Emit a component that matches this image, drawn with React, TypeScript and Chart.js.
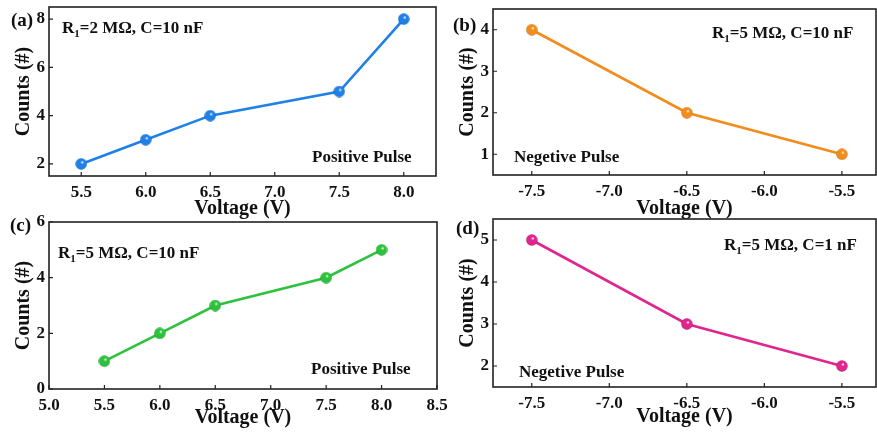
import React, { useEffect, useRef } from "react";
import { Chart, registerables } from "chart.js";
Chart.register(...registerables);

// ---- data ----
const posVoltage = [5.5, 6.0, 6.5, 7.5, 8.0];
const countsA = [2, 3, 4, 5, 8];
const countsC = [1, 2, 3, 4, 5];
const negVoltage = [-7.5, -6.5, -5.5];
const countsB = [4, 2, 1];
const countsD = [5, 3, 2];

// tick values
const xTicksA = [5.5, 6.0, 6.5, 7.0, 7.5, 8.0];
const xTicksC = [5.0, 5.5, 6.0, 6.5, 7.0, 7.5, 8.0, 8.5];
const xTicksNeg = [-7.5, -7.0, -6.5, -6.0, -5.5];
const yTicksA = [2, 4, 6, 8];
const yTicksB = [1, 2, 3, 4];
const yTicksC = [0, 2, 4, 6];
const yTicksD = [2, 3, 4, 5];

const panelLabels = ["(a)", "(b)", "(c)", "(d)"];
const noteTexts = ["=2 MΩ, C=10 nF", "=5 MΩ, C=10 nF", "=5 MΩ, C=10 nF", "=5 MΩ, C=1 nF"];
const pulseTexts = ["Positive Pulse", "Negetive Pulse", "Positive Pulse", "Negetive Pulse"];
const xTitle = "Voltage (V)";
const yTitle = "Counts (#)";

// ---- layout / style ----
const W = 877;
const H = 436;
const O = 30; // canvas overhang on every side (clipped by the container)
const CW = W + 2 * O;
const CH = H + 2 * O;
const YW = 45;
const FONT = "'Liberation Serif', 'Times New Roman', serif";

type Panel = {
  xs: number[];
  ys: number[];
  xTicks: number[];
  yTicks: number[];
  color: string;
  dark: string;
  xMin: number; xMax: number; yMin: number; yMax: number;
  area: { left: number; right: number; top: number; bottom: number };
  xh: number;
  label: [number, number];
  note: [number, number];
  pulse: [number, number];
  idx: number;
};

const panels: Panel[] = [
  {
    xs: posVoltage, ys: countsA, xTicks: xTicksA, yTicks: yTicksA, color: "#1f80e8", dark: "#0c55a8",
    xMin: 5.25, xMax: 8.25, yMin: 1.5, yMax: 8.5,
    area: { left: 49, right: 436, top: 7, bottom: 176 }, xh: 43,
    label: [11, 26], note: [62, 33], pulse: [312, 162], idx: 0,
  },
  {
    xs: negVoltage, ys: countsB, xTicks: xTicksNeg, yTicks: yTicksB, color: "#f28c1c", dark: "#b45e08",
    xMin: -7.75, xMax: -5.28, yMin: 0.5, yMax: 4.5,
    area: { left: 493, right: 876, top: 9, bottom: 175 }, xh: 44,
    label: [453, 31], note: [712, 38], pulse: [514, 162], idx: 1,
  },
  {
    xs: posVoltage, ys: countsC, xTicks: xTicksC, yTicks: yTicksC, color: "#2cc23c", dark: "#14861f",
    xMin: 5.0, xMax: 8.5, yMin: 0, yMax: 6,
    area: { left: 49, right: 437, top: 222, bottom: 389 }, xh: 39,
    label: [10, 231], note: [58, 258], pulse: [311, 374], idx: 2,
  },
  {
    xs: negVoltage, ys: countsD, xTicks: xTicksNeg, yTicks: yTicksD, color: "#e0268e", dark: "#a0125f",
    xMin: -7.75, xMax: -5.28, yMin: 1.5, yMax: 5.5,
    area: { left: 493, right: 876, top: 219, bottom: 387 }, xh: 40,
    label: [456, 234], note: [724, 250], pulse: [519, 377], idx: 3,
  },
];

function sphere(color: string, dark: string): HTMLCanvasElement {
  const s = 12;
  const c = document.createElement("canvas");
  c.width = s; c.height = s;
  const g = c.getContext("2d")!;
  const r = s / 2;
  const grad = g.createRadialGradient(r + 1.2, r - 1.8, 0.3, r, r, r);
  grad.addColorStop(0, "#ffffff");
  grad.addColorStop(0.25, color);
  grad.addColorStop(0.8, color);
  grad.addColorStop(1, dark);
  g.fillStyle = grad;
  g.beginPath();
  g.arc(r, r, r - 0.3, 0, Math.PI * 2);
  g.fill();
  return c;
}

function makeDecor(p: Panel) {
  return {
    id: "decor" + p.idx,
    beforeDatasetsDraw(chart: any) {
      const { ctx, chartArea: a, scales } = chart;
      ctx.save();
      ctx.strokeStyle = "#222";
      ctx.lineWidth = 1.6;
      ctx.strokeRect(a.left, a.top, a.right - a.left, a.bottom - a.top);
      ctx.beginPath();
      ctx.lineWidth = 1.2;
      scales.x.ticks.forEach((t: any) => {
        const px = scales.x.getPixelForValue(t.value);
        ctx.moveTo(px, a.bottom);
        ctx.lineTo(px, a.bottom - 4);
      });
      scales.y.ticks.forEach((t: any) => {
        const py = scales.y.getPixelForValue(t.value);
        ctx.moveTo(a.left, py);
        ctx.lineTo(a.left + 4, py);
      });
      ctx.stroke();
      ctx.restore();
    },
    afterDraw(chart: any) {
      const ctx = chart.ctx as CanvasRenderingContext2D;
      ctx.save();
      ctx.translate(O, O);
      ctx.fillStyle = "#111";
      ctx.textBaseline = "alphabetic";
      ctx.textAlign = "left";
      ctx.font = `bold 19px ${FONT}`;
      ctx.fillText(panelLabels[p.idx], p.label[0], p.label[1]);
      const size = 17;
      let x = p.note[0];
      const y = p.note[1];
      ctx.font = `bold ${size}px ${FONT}`;
      ctx.fillText("R", x, y);
      x += ctx.measureText("R").width;
      ctx.font = `bold 11px ${FONT}`;
      ctx.fillText("1", x, y + 4);
      x += ctx.measureText("1").width;
      ctx.font = `bold ${size}px ${FONT}`;
      ctx.fillText(noteTexts[p.idx], x, y);
      ctx.font = `bold 17px ${FONT}`;
      ctx.fillText(pulseTexts[p.idx], p.pulse[0], p.pulse[1]);
      ctx.restore();
    },
  };
}

function PanelChart({ p }: { p: Panel }) {
  const ref = useRef<HTMLCanvasElement>(null);
  useEffect(() => {
    const img = sphere(p.color, p.dark);
    const data = p.xs.map((x, i) => ({ x, y: p.ys[i] }));
    const chart = new Chart(ref.current!, {
      type: "line",
      data: {
        datasets: [
          {
            data,
            borderColor: p.color,
            borderWidth: 2.6,
            pointStyle: img as any,
            pointRadius: 6,
            tension: 0,
            fill: false,
          },
        ],
      },
      options: {
        animation: false,
        responsive: false,
        events: [],
        layout: {
          padding: {
            left: p.area.left + O - YW,
            right: W - p.area.right + O,
            top: p.area.top + O,
            bottom: H - p.area.bottom - p.xh + O,
          },
        },
        plugins: { legend: { display: false }, tooltip: { enabled: false } },
        scales: {
          x: {
            type: "linear",
            min: p.xMin,
            max: p.xMax,
            grid: { display: false, drawTicks: false },
            border: { display: false },
            afterBuildTicks: (s: any) => { s.ticks = p.xTicks.map((v) => ({ value: v })); },
            ticks: {
              padding: 6,
              color: "#111",
              font: { family: FONT, size: 17, weight: "bold", lineHeight: 1.2 },
              callback: (v: any) => Number(v).toFixed(1),
              maxRotation: 0,
              autoSkip: false,
            },
            title: {
              display: true,
              text: xTitle,
              color: "#111",
              font: { family: FONT, size: 20, weight: "bold", lineHeight: 1 },
              padding: { top: 0, bottom: 0 },
            },
            afterFit: (s: any) => { s.height = p.xh; },
          },
          y: {
            type: "linear",
            min: p.yMin,
            max: p.yMax,
            grid: { display: false, drawTicks: false },
            border: { display: false },
            afterBuildTicks: (s: any) => { s.ticks = p.yTicks.map((v) => ({ value: v })); },
            ticks: {
              padding: 4,
              color: "#111",
              font: { family: FONT, size: 17, weight: "bold" },
              callback: (v: any) => String(v),
              autoSkip: false,
            },
            title: {
              display: true,
              text: yTitle,
              color: "#111",
              font: { family: FONT, size: 20, weight: "bold", lineHeight: 1 },
              padding: { top: 10, bottom: 0 },
            },
            afterFit: (s: any) => { s.width = YW; },
          },
        },
      },
      plugins: [makeDecor(p)],
    } as any);
    return () => chart.destroy();
  }, [p]);
  return (
    <canvas
      ref={ref}
      width={CW}
      height={CH}
      style={{ position: "absolute", left: -O, top: -O, width: CW, height: CH }}
    />
  );
}

export default function App() {
  return (
    <div style={{ position: "absolute", left: 0, top: 0, width: W, height: H, background: "#fff", overflow: "hidden" }}>
      {panels.map((p) => (
        <PanelChart key={p.idx} p={p} />
      ))}
    </div>
  );
}
